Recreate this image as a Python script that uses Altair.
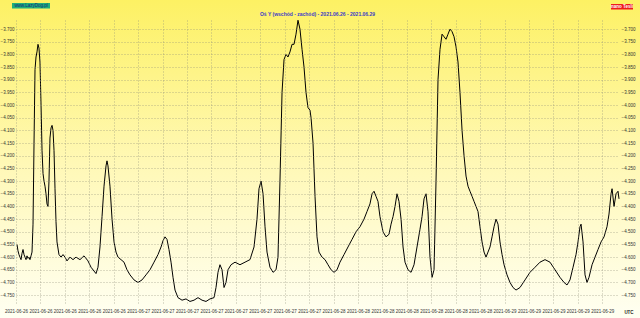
import altair as alt
import pandas as pd

# hours since 2021-06-26 09:00 and field value as printed on the axis
hours = [0.13,0.26,0.39,0.52,0.66,0.79,0.92,1.05,1.18,1.31,1.44,1.57,1.70,1.83,1.97,2.10,2.23,2.36,2.49,2.62,
         2.75,2.88,3.01,3.14,3.28,3.41,3.54,3.67,3.80,3.93,4.06,4.19,4.32,4.45,4.59,4.72,4.85,4.98,5.11,5.24,
         5.37,5.63,5.90,6.16,6.42,6.68,7.07,7.47,7.86,8.38,8.91,9.43,9.83,10.22,10.48,10.74,11.00,11.27,11.53,11.79,
         11.92,12.05,12.31,12.58,12.84,13.10,13.36,13.76,14.15,14.54,14.93,15.46,15.98,16.51,17.03,17.55,18.08,18.60,19.00,19.26,
         19.52,19.78,20.04,20.31,20.57,20.83,21.22,21.75,22.27,22.79,23.32,23.84,24.37,24.89,25.41,25.94,26.20,26.46,26.72,26.99,
         27.25,27.51,27.77,28.17,28.69,29.34,30.00,30.65,31.18,31.57,31.83,32.10,32.36,32.62,32.88,33.27,33.67,34.06,34.32,34.58,
         34.85,35.11,35.37,35.63,35.89,36.16,36.42,36.68,36.94,37.20,37.47,37.73,37.99,38.25,38.51,38.65,38.91,39.17,39.43,39.69,
         40.09,40.48,40.87,41.27,41.66,42.05,42.44,42.97,43.49,44.02,44.54,45.06,45.59,45.98,46.37,46.64,46.90,47.16,47.42,47.68,
         48.08,48.47,48.86,49.13,49.39,49.65,49.91,50.17,50.44,50.70,50.96,51.35,51.75,52.14,52.53,52.92,53.19,53.45,53.71,53.97,
         54.23,54.50,54.76,55.02,55.28,55.54,55.81,56.07,56.33,56.59,56.85,57.12,57.38,57.64,57.90,58.16,58.43,58.69,58.95,59.21,
         59.47,59.74,60.00,60.26,60.52,60.78,61.05,61.31,61.57,61.83,62.09,62.36,62.62,62.88,63.14,63.40,63.67,63.93,64.32,64.71,
         65.11,65.50,66.02,66.68,67.33,67.99,68.64,69.30,69.95,70.61,71.26,71.79,72.18,72.57,72.97,73.36,73.62,73.88,74.02,74.28,
         74.54,74.80,75.06,75.46,75.85,76.24,76.64,77.03,77.42,77.68,77.95,78.08,78.34,78.60,78.86,78.99]
values = [-4.550,-4.575,-4.590,-4.600,-4.610,-4.585,-4.570,-4.590,-4.600,-4.610,-4.595,-4.605,-4.600,-4.610,-4.595,-4.580,-4.470,-4.150,-3.860,-3.810,
          -3.790,-3.760,-3.775,-3.830,-4.000,-4.180,-4.270,-4.300,-4.320,-4.350,-4.390,-4.400,-4.300,-4.130,-4.090,-4.080,-4.100,-4.180,-4.330,-4.460,
          -4.540,-4.590,-4.600,-4.590,-4.600,-4.615,-4.600,-4.610,-4.600,-4.610,-4.595,-4.615,-4.640,-4.655,-4.665,-4.640,-4.560,-4.440,-4.320,-4.240,
          -4.220,-4.240,-4.320,-4.450,-4.540,-4.580,-4.600,-4.610,-4.620,-4.650,-4.670,-4.690,-4.700,-4.690,-4.670,-4.650,-4.620,-4.590,-4.560,-4.535,
          -4.520,-4.530,-4.570,-4.620,-4.680,-4.730,-4.760,-4.770,-4.765,-4.775,-4.770,-4.760,-4.770,-4.775,-4.765,-4.760,-4.720,-4.660,-4.630,-4.650,
          -4.720,-4.700,-4.650,-4.630,-4.620,-4.630,-4.620,-4.610,-4.560,-4.450,-4.330,-4.300,-4.350,-4.480,-4.580,-4.640,-4.660,-4.650,-4.600,-4.300,
          -3.950,-3.820,-3.800,-3.810,-3.790,-3.760,-3.760,-3.720,-3.665,-3.700,-3.780,-3.850,-3.950,-4.010,-4.020,-4.050,-4.150,-4.360,-4.520,-4.580,
          -4.600,-4.610,-4.630,-4.650,-4.660,-4.650,-4.620,-4.590,-4.560,-4.530,-4.500,-4.480,-4.450,-4.420,-4.390,-4.350,-4.340,-4.360,-4.380,-4.440,
          -4.500,-4.520,-4.510,-4.470,-4.440,-4.400,-4.350,-4.380,-4.450,-4.560,-4.620,-4.650,-4.660,-4.630,-4.560,-4.490,-4.440,-4.370,-4.350,-4.420,
          -4.600,-4.680,-4.650,-4.300,-3.900,-3.780,-3.720,-3.730,-3.740,-3.720,-3.700,-3.710,-3.730,-3.770,-3.830,-3.950,-4.100,-4.200,-4.280,-4.320,
          -4.340,-4.360,-4.380,-4.400,-4.420,-4.480,-4.540,-4.580,-4.600,-4.580,-4.560,-4.520,-4.480,-4.450,-4.470,-4.540,-4.590,-4.630,-4.670,-4.700,
          -4.720,-4.730,-4.720,-4.690,-4.660,-4.640,-4.620,-4.610,-4.620,-4.650,-4.680,-4.700,-4.710,-4.690,-4.640,-4.590,-4.540,-4.480,-4.470,-4.540,
          -4.670,-4.700,-4.680,-4.630,-4.600,-4.570,-4.540,-4.520,-4.480,-4.430,-4.350,-4.330,-4.400,-4.350,-4.340,-4.370]

# axis ticks: minutes after 2021-06-26 09:00
tick_minutes = [0,192,384,576,768,960,1152,1344,1536,1728,1920,2112,2304,2496,2688,2880,3072,3264,3456,3648,
                3840,4032,4224,4416,4608]
y_ticks = [-3.70,-3.75,-3.80,-3.85,-3.90,-3.95,-4.00,-4.05,-4.10,-4.15,-4.20,-4.25,-4.30,-4.35,-4.40,
           -4.45,-4.50,-4.55,-4.60,-4.65,-4.70,-4.75]
y_domain = [-4.789, -3.664]
x_span_hours = 78.99

title_text = "Oś Y (wschód - zachód) - 2021.06.26 - 2021.06.29"
left_badge = "www.LazyDog.pl"
right_badge = "nano Tesli"
utc_text = "UTC"

start = pd.Timestamp("2021-06-26 09:00")
df = pd.DataFrame({"time": [start + pd.Timedelta(hours=h) for h in hours], "value": values})

def dt(ts):
    return alt.DateTime(year=ts.year, month=ts.month, date=ts.day, hours=ts.hour,
                        minutes=ts.minute, seconds=ts.second)

x_values = [dt(start + pd.Timedelta(minutes=m)) for m in tick_minutes]
x_domain = [dt(start), dt(start + pd.Timedelta(hours=x_span_hours))]

W, H = 603, 285
FONT = "Liberation Sans"

grid_style = dict(grid=True, gridColor="#8f8f78", gridDash=[1, 2], gridWidth=0.6, ticks=False,
                  domain=False, labelFont=FONT, labelFontSize=4.5, labelColor="#333333", zindex=1)

x_enc = alt.X("time:T", scale=alt.Scale(domain=x_domain, nice=False),
              axis=alt.Axis(values=x_values, format="%Y-%m-%d", title=None, labelPadding=3,
                            labelOverlap=False, labelFlush=False, **grid_style))

bg = alt.Chart(pd.DataFrame({"a": [0]})).mark_rect(
    fill=alt.Gradient(gradient="linear", x1=0, y1=0, x2=0, y2=1,
                      stops=[alt.GradientStop(offset=0, color="#fdf163"),
                             alt.GradientStop(offset=0.5, color="#fff8b4"),
                             alt.GradientStop(offset=1, color="#fffff2")])
).encode(x=alt.value(-16), x2=alt.value(W + 21), y=alt.value(-20), y2=alt.value(H + 13))

y_scale = alt.Scale(domain=y_domain, nice=False, zero=False)
line_left = alt.Chart(df).mark_line(color="#000000", strokeWidth=1).encode(
    x=x_enc,
    y=alt.Y("value:Q", scale=y_scale,
            axis=alt.Axis(values=y_ticks, format=".3f", title=None, orient="left", labelPadding=2,
                          **grid_style)),
)
line_right = alt.Chart(df).mark_line(color="#000000", strokeWidth=1, opacity=0).encode(
    x=x_enc,
    y=alt.Y("value:Q", scale=y_scale,
            axis=alt.Axis(values=y_ticks, format=".3f", title=None, orient="right", labelPadding=2,
                          **{**grid_style, "grid": False})),
)

one = pd.DataFrame({"a": [0]})
title = alt.Chart(one).mark_text(font=FONT, fontSize=5, fontWeight="bold", color="#3a3ac8",
                                 align="center", baseline="middle").encode(
    x=alt.value(W / 2), y=alt.value(-6), text=alt.value(title_text))
lb_rect = alt.Chart(one).mark_rect(fill="#1fae7a").encode(
    x=alt.value(-4), x2=alt.value(34), y=alt.value(-17), y2=alt.value(-11.5))
lb_text = alt.Chart(one).mark_text(font=FONT, fontSize=4.5, color="#1a237e", align="center",
                                   baseline="middle").encode(
    x=alt.value(15), y=alt.value(-14.2), text=alt.value(left_badge))
rb_rect = alt.Chart(one).mark_rect(fill="#ee1c1c").encode(
    x=alt.value(595), x2=alt.value(617), y=alt.value(-16), y2=alt.value(-10.5))
rb_text = alt.Chart(one).mark_text(font=FONT, fontSize=4.5, color="#ffffff", fontWeight="bold",
                                   align="center", baseline="middle").encode(
    x=alt.value(606), y=alt.value(-13.2), text=alt.value(right_badge))
utc = alt.Chart(one).mark_text(font=FONT, fontSize=4.5, fontWeight="bold", color="#222222",
                               align="center", baseline="middle").encode(
    x=alt.value(613), y=alt.value(H + 8), text=alt.value(utc_text))

chart = alt.layer(bg, line_left, line_right, title, lb_rect, lb_text, rb_rect, rb_text, utc).resolve_axis(
    y="independent"
).properties(
    width=W, height=H,
    autosize=alt.AutoSizeParams(type="none"),
    padding={"left": 16, "top": 20, "right": 21, "bottom": 13},
    background="#fffff2",
).configure_view(stroke="#222222", strokeWidth=1)

chart.save("out.html", embed_options={"renderer": "svg", "actions": False})
